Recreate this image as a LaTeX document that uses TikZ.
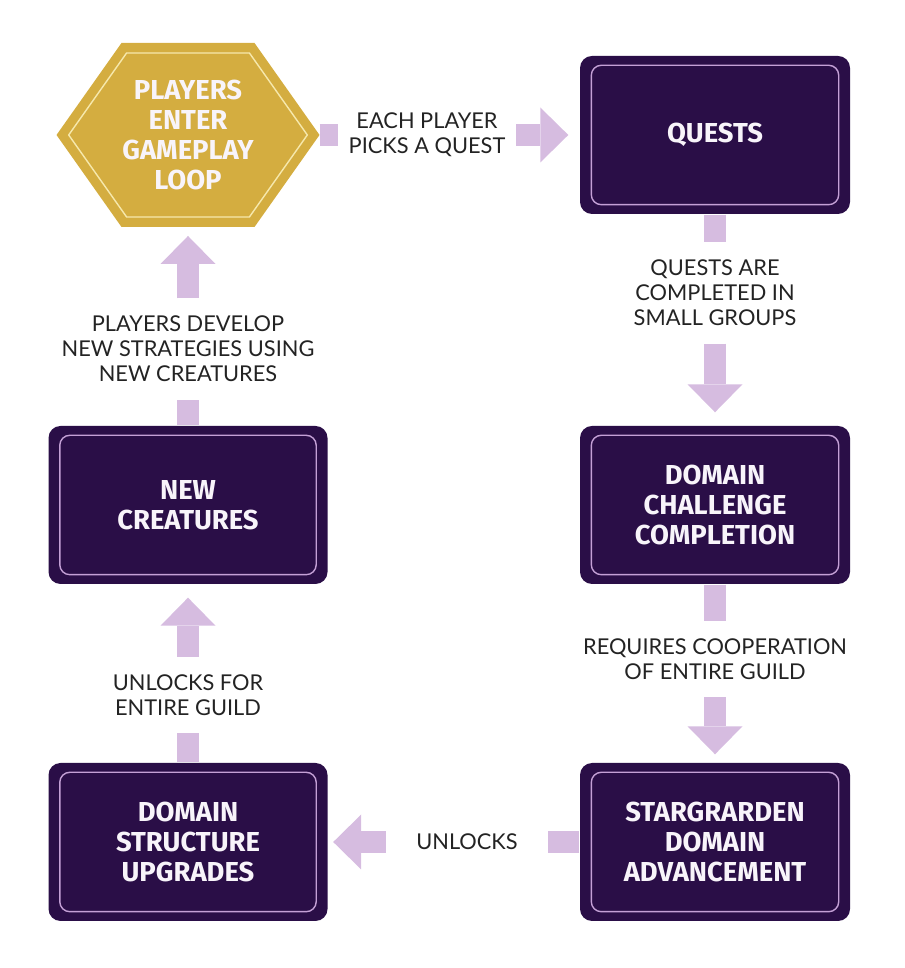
\documentclass[tikz,border=0pt]{standalone}
\usepackage{fontspec}
\setmainfont{Lato}
\newfontfamily\headfont{Fira Sans}
\usepackage{tikz}
\usetikzlibrary{arrows,arrows.meta,shapes,positioning,calc}
\definecolor{darkpurple}{RGB}{42,14,71}
\definecolor{rimviolet}{RGB}{196,160,214}
\definecolor{lilac}{RGB}{214,188,224}
\definecolor{gold}{RGB}{212,173,64}
\definecolor{palegold}{RGB}{246,232,172}
\definecolor{inkgray}{RGB}{35,35,35}
\definecolor{snow}{RGB}{248,244,250}

\begin{document}
\begin{tikzpicture}[
    stage/.style={rectangle, rounded corners=0.12cm, fill=darkpurple, text=snow, align=center,
        font=\headfont\bfseries\fontsize{7.8}{8.6}\selectfont, minimum height=1.58cm},
    leftstage/.style={stage, minimum width=2.79cm},
    rightstage/.style={stage, minimum width=2.70cm},
    rim/.style={rimviolet, line width=0.4pt, rounded corners=0.1cm},
    caption/.style={text=inkgray, align=center, font=\fontsize{6.2}{7.1}\selectfont, inner sep=0.17cm},
    stub/.style={lilac, line width=0.22cm},
    flow/.style={stub, -{Triangle[width=0.55cm,length=0.28cm,line width=0pt]}}
]
    \useasboundingbox (0,0) rectangle (9.04,9.68);

    % Start hexagon
    \coordinate (hexc) at (1.88,8.33);
    \fill[gold] ($(hexc)+(-1.315,0)$) -- ++(0.65,0.92) -- ++(1.33,0) -- ++(0.65,-0.92)
        -- ++(-0.65,-0.92) -- ++(-1.33,0) -- cycle;
    \draw[palegold, line width=0.4pt] ($(hexc)+(-1.193,0)$) -- ++(0.579,0.82) -- ++(1.228,0)
        -- ++(0.579,-0.82) -- ++(-0.579,-0.82) -- ++(-1.228,0) -- cycle;
    \node[align=center, text=snow, font=\headfont\bfseries\fontsize{7.8}{8.6}\selectfont] (hex) at (hexc)
        {PLAYERS\\ENTER\\GAMEPLAY\\LOOP};
    \coordinate (hexr) at ($(hexc)+(1.315,0)$);
    \coordinate (hexb) at ($(hexc)+(0,-0.92)$);

    % Stage boxes
    \node[rightstage] (quests) at (7.15,8.33) {QUESTS};
    \node[rightstage] (challenge) at (7.15,4.63) {DOMAIN\\CHALLENGE\\COMPLETION};
    \node[rightstage] (advance) at (7.15,1.26) {STARGRARDEN\\DOMAIN\\ADVANCEMENT};
    \node[leftstage] (upgrades) at (1.88,1.26) {DOMAIN\\STRUCTURE\\UPGRADES};
    \node[leftstage] (creatures) at (1.88,4.63) {NEW\\CREATURES};

    % Inner rims
    \foreach \n in {quests,challenge,advance,upgrades,creatures}
        \draw[rim] ($(\n.south west)+(0.12,0.10)$) rectangle ($(\n.north east)+(-0.12,-0.10)$);

    % Captions
    \node[caption, inner xsep=0.1cm] (pick) at (4.27,8.33) {EACH PLAYER\\PICKS A QUEST};
    \node[caption] (groups) at (7.15,6.75) {QUESTS ARE\\COMPLETED IN\\SMALL GROUPS};
    \node[caption] (coop) at (7.15,3.09) {REQUIRES COOPERATION\\OF ENTIRE GUILD};
    \node[caption, inner xsep=0.3cm] (unlocks) at (4.67,1.26) {UNLOCKS};
    \node[caption] (guild) at (1.88,2.73) {UNLOCKS FOR\\ENTIRE GUILD};
    \node[caption] (develop) at (1.88,6.19) {PLAYERS DEVELOP\\NEW STRATEGIES USING\\NEW CREATURES};

    % Block arrows
    \draw[stub] (hexr) -- (pick);
    \draw[flow, shorten >=0.11cm] (pick) -- (quests);
    \draw[stub] (quests) -- (groups);
    \draw[flow, shorten >=0.13cm] (groups) -- (challenge);
    \draw[stub] (challenge) -- (coop);
    \draw[flow, shorten >=0.08cm] (coop) -- (advance);
    \draw[stub] (advance) -- (unlocks);
    \draw[flow, shorten >=0.05cm] (unlocks) -- (upgrades);
    \draw[stub] (upgrades) -- (guild);
    \draw[flow, shorten >=0.13cm] (guild) -- (creatures);
    \draw[stub] (creatures) -- (develop);
    \draw[flow, shorten >=0.09cm] (develop) -- (hexb);
\end{tikzpicture}
\end{document}
